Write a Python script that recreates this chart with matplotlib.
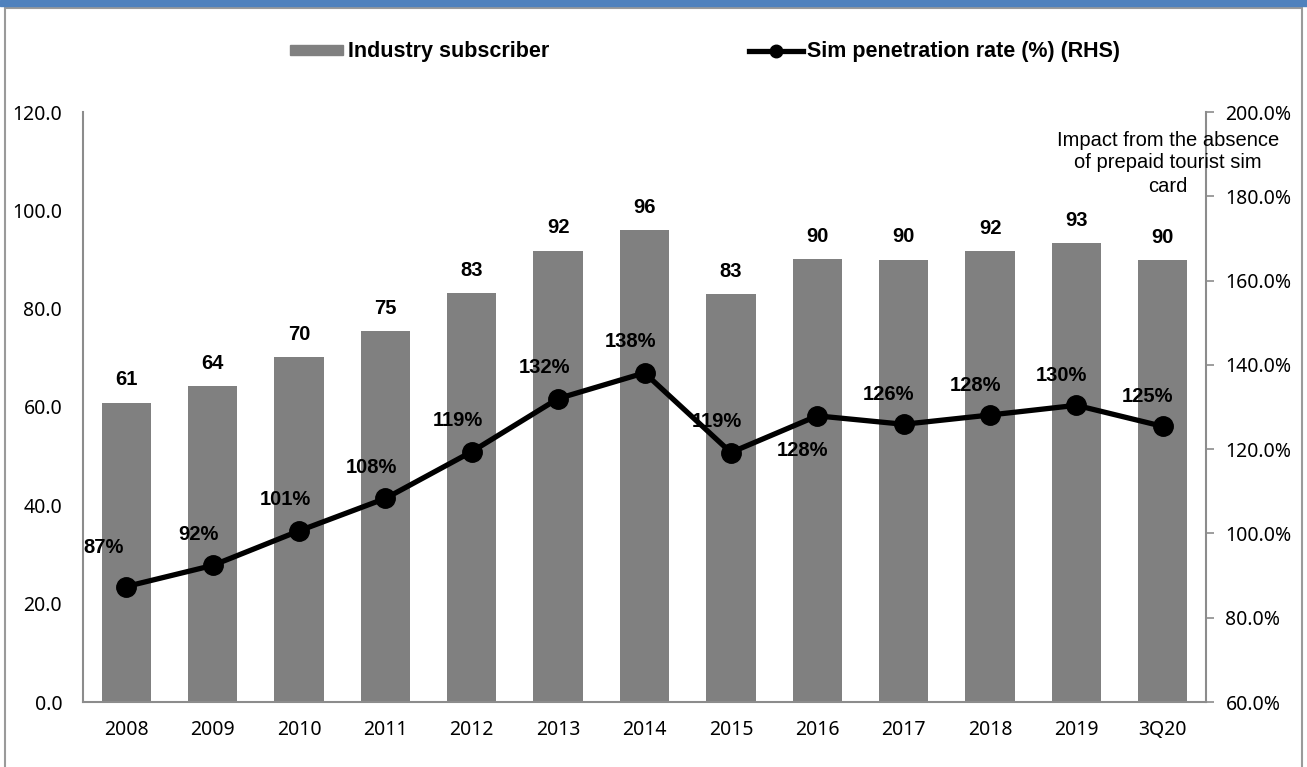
import matplotlib
matplotlib.use("Agg")
import matplotlib.pyplot as plt
from matplotlib.patches import Rectangle
from matplotlib.lines import Line2D
from matplotlib.ticker import FuncFormatter

categories = ["2008", "2009", "2010", "2011", "2012", "2013", "2014",
              "2015", "2016", "2017", "2018", "2019", "3Q20"]
subscribers = [60.9, 64.2, 70.1, 75.4, 83.1, 91.8, 95.9,
               82.9, 90.1, 90.0, 91.7, 93.3, 89.8]
penetration = [87.4, 92.4, 100.6, 108.3, 119.4, 132.0, 138.1,
               119.2, 127.9, 125.9, 128.1, 130.4, 125.4]
note_lines = ["Impact from the absence", "of prepaid tourist sim", "card"]

bar_color = "#808080"
spine_color = "#8c8c8c"
label_font = "Liberation Sans"
tick_font = "Noto Sans"

fig = plt.figure(figsize=(13.07, 7.67), dpi=100)

# outer frame and blue header strip
fig.patches.append(Rectangle((5 / 1307, -0.05), 1297 / 1307, 1.05 - 8 / 767,
                             transform=fig.transFigure, fill=False,
                             edgecolor="#9a9a9a", lw=1.5))
fig.patches.append(Rectangle((0, 1 - 6 / 767), 1, 6 / 767,
                             transform=fig.transFigure, color="#4f81bd"))

ax = fig.add_axes([83 / 1307, 65 / 767, (1206 - 83) / 1307, (702 - 112) / 767])
x = range(len(categories))
ax.bar(x, subscribers, width=0.57, color=bar_color, zorder=2)
ax.set_xlim(-0.5, len(categories) - 0.5)
ax.set_ylim(0, 120)
ax.set_yticks(range(0, 121, 20))
ax.yaxis.set_major_formatter(FuncFormatter(lambda v, p: f"{v:.1f}"))
ax.set_xticks(list(x))
ax.set_xticklabels(categories)
ax.tick_params(axis="y", length=0, pad=15)
ax.tick_params(axis="x", length=0, pad=13)
for lab in ax.get_xticklabels() + ax.get_yticklabels():
    lab.set_fontfamily(tick_font)
    lab.set_fontsize(14)
for s in ["top", "right"]:
    ax.spines[s].set_visible(False)
for s in ["left", "bottom"]:
    ax.spines[s].set_color(spine_color)
    ax.spines[s].set_linewidth(1.5)

for i, v in enumerate(subscribers):
    ax.annotate(f"{v:.0f}", (i, v), xytext=(0, 23), textcoords="offset pixels",
                ha="center", va="center", fontsize=14.5, fontweight="bold",
                family=label_font)

ax2 = ax.twinx()
ax2.plot(list(x), penetration, color="black", lw=3.8, marker="o",
         markersize=14, zorder=3)
ax2.set_ylim(60, 200)
ax2.set_yticks(range(60, 201, 20))
ax2.yaxis.set_major_formatter(FuncFormatter(lambda v, p: f"{v:.1f}%"))
ax2.tick_params(axis="y", length=6, width=1.2, color=spine_color, pad=8)
for lab in ax2.get_yticklabels():
    lab.set_fontfamily(tick_font)
    lab.set_fontsize(14)
for s in ["top", "left", "bottom"]:
    ax2.spines[s].set_visible(False)
ax2.spines["right"].set_color(spine_color)
ax2.spines["right"].set_linewidth(1.5)

# label offsets (pixels) for the line labels
offsets = [(-23, 39)] + [(-14, 31)] * 7 + [(-15, -35)] + [(-15, 30)] * 4
for i, v in enumerate(penetration):
    dx, dy = offsets[i]
    ax2.annotate(f"{v:.0f}%", (i, v), xytext=(dx, dy), textcoords="offset pixels",
                 ha="center", va="center", fontsize=14.5, fontweight="bold",
                 family=label_font, zorder=4)

# note text, one line per call so it sits like the original text box
for k, line in enumerate(note_lines):
    fig.text(1168 / 1307, 1 - (140 + 23 * k) / 767, line,
             ha="center", va="center", fontsize=14.5, family=label_font)

handles = [Rectangle((0, 0), 1, 1, color=bar_color),
           Line2D([0], [0], color="black", lw=3.8, marker="o", markersize=9)]
fig.legend(handles, ["Industry subscriber", "Sim penetration rate (%) (RHS)"],
           loc="center", bbox_to_anchor=(705 / 1307, 1 - 52 / 767), ncol=2,
           frameon=False, handlelength=2.5, handleheight=0.35, handletextpad=0.2,
           columnspacing=9.3, prop={"family": label_font, "weight": "bold",
                                     "size": 15.5})

fig.savefig("out.png", dpi=100)
